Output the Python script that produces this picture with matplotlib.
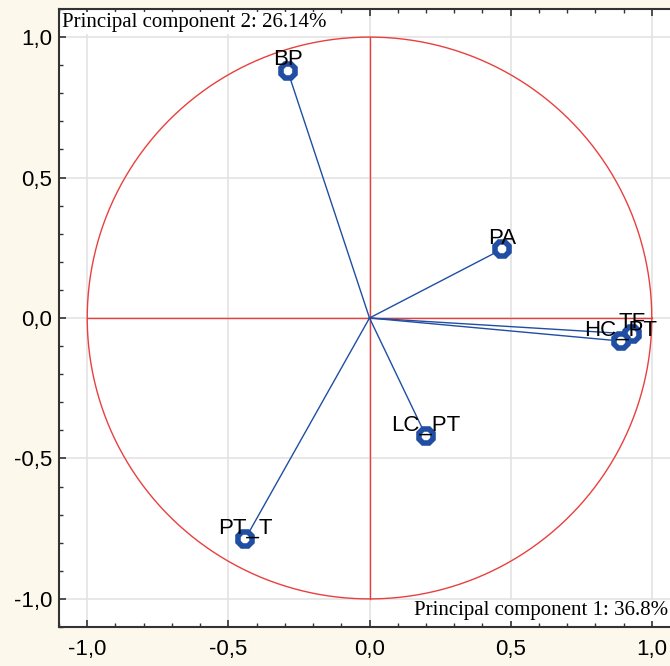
import numpy as np
import matplotlib.pyplot as plt
from matplotlib.ticker import MultipleLocator, FuncFormatter

names = ["BP", "PA", "TF", "HC_PT", "LC_PT", "PT_T"]
pc1 = [-0.29, 0.47, 0.93, 0.89, 0.20, -0.44]
pc2 = [0.88, 0.245, -0.057, -0.082, -0.42, -0.786]

var_pc1 = 36.8
var_pc2 = 26.14

blue = "#1f4ea3"
red = "#e8403f"

fig = plt.figure(figsize=(6.7, 6.66), dpi=100, facecolor="#fcf8ec")
ax = fig.add_axes([59 / 670, 1 - 627 / 666, (680 - 59) / 670, (627 - 9) / 666])
ax.set_facecolor("white")

# correlation circle and axes cross
t = np.linspace(0, 2 * np.pi, 400)
ax.plot(np.cos(t), np.sin(t), color=red, lw=1, zorder=2)
ax.plot([-1, 1], [0, 0], color=red, lw=1, zorder=2)
ax.plot([0, 0], [-1, 1], color=red, lw=1, zorder=2)

for x, y, n in zip(pc1, pc2, names):
    ax.plot([0, x], [0, y], color=blue, lw=1, zorder=3)
    ax.plot(x, y, marker="8", ms=10.5, mfc="white", mec=blue, mew=4, zorder=4)
    ax.annotate(n, (x, y), xytext=(0, 4), textcoords="offset points",
                ha="center", va="baseline", fontsize=16,
                family="Liberation Sans", color="black", zorder=5)

ax.set_xlim(-1.1, 1.1)
ax.set_ylim(-1.1, 1.1)
ax.xaxis.set_major_locator(MultipleLocator(0.5))
ax.yaxis.set_major_locator(MultipleLocator(0.5))
ax.xaxis.set_minor_locator(MultipleLocator(0.1))
ax.yaxis.set_minor_locator(MultipleLocator(0.1))
fmt = FuncFormatter(lambda v, p: f"{v:.1f}".replace(".", ",").replace("-0,0", "0,0"))
ax.xaxis.set_major_formatter(fmt)
ax.yaxis.set_major_formatter(fmt)
ax.tick_params(which="both", direction="in", top=True, right=True, color="#333333")
ax.tick_params(which="major", length=5, width=1.2, labelsize=16)
ax.tick_params(which="minor", length=3, width=1)
ax.tick_params(axis="x", which="major", pad=9)
ax.tick_params(axis="y", which="major", pad=5)
for lab in ax.get_xticklabels() + ax.get_yticklabels():
    lab.set_family("Liberation Sans")
ax.grid(True, which="major", color="#e3e3e3", lw=1.2, zorder=0)
ax.set_axisbelow(True)
for s in ax.spines.values():
    s.set_color("#333333")
    s.set_linewidth(1.5)

ax.text(0.005, 0.993, f"Principal component 2: {var_pc2}%", transform=ax.transAxes,
        ha="left", va="top", fontsize=15, family="Liberation Serif",
        bbox=dict(facecolor="white", edgecolor="none", pad=1), zorder=6)
ax.text(1.058, -1.075, f"Principal component 1: {var_pc1}%",
        ha="right", va="bottom", fontsize=15, family="Liberation Serif",
        bbox=dict(facecolor="white", edgecolor="none", pad=1), zorder=6)

fig.savefig("out.png", dpi=100, facecolor=fig.get_facecolor())
